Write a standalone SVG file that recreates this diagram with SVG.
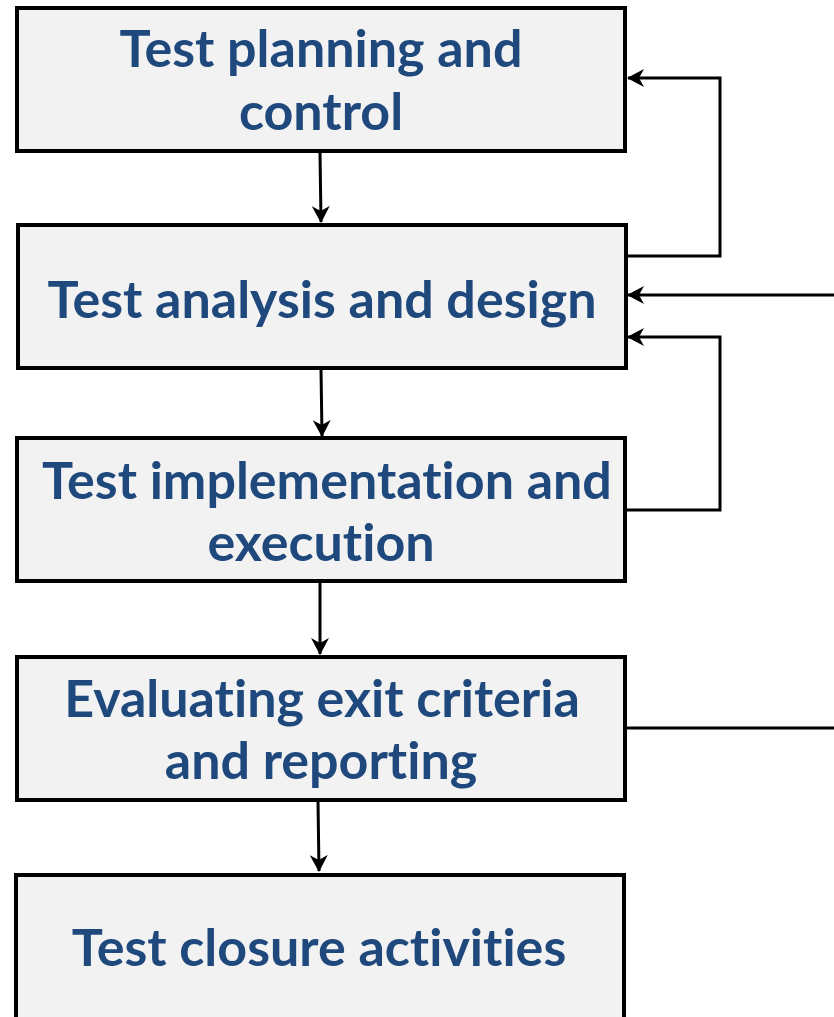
<svg xmlns="http://www.w3.org/2000/svg" width="834" height="1017" viewBox="0 0 834 1017">
<style>
.box{fill:#f2f2f2;stroke:#000;stroke-width:4}
.lbl{font-family:Lato,"Open Sans",sans-serif;font-weight:bold;font-size:52px;fill:#1f497d;text-anchor:middle;font-variant-ligatures:none;font-feature-settings:"liga" 0}
.con{fill:none;stroke:#000;stroke-width:3}
</style>
<defs>
<marker id="ah" markerWidth="18" markerHeight="20" refX="16" refY="10" orient="auto" markerUnits="userSpaceOnUse">
<path d="M0,1 L17,10 L0,19 L5,10 Z" fill="#000"/>
</marker>
</defs>
<rect width="834" height="1017" fill="#fff"/>
<g id="connectors">
<path class="con" d="M320,152 L321,222" marker-end="url(#ah)"/>
<path class="con" d="M321,369 L322,436" marker-end="url(#ah)"/>
<path class="con" d="M320,582 L320,654" marker-end="url(#ah)"/>
<path class="con" d="M318,801 L319,871" marker-end="url(#ah)"/>
<path class="con" d="M627,256 L720,256 L720,78 L628,78" marker-end="url(#ah)"/>
<path class="con" d="M834,295 L628,295" marker-end="url(#ah)"/>
<path class="con" d="M627,510 L720,510 L720,337 L628,337" marker-end="url(#ah)"/>
<path class="con" d="M627,728 L834,728"/>
</g>
<g id="n1">
<rect class="box" x="17" y="8" width="608" height="143"/>
<text class="lbl" x="321" y="67">Test planning and</text>
<text class="lbl" x="321" y="130">control</text>
</g>
<g id="n2">
<rect class="box" x="18" y="225" width="608" height="143"/>
<text class="lbl" x="322" y="318">Test analysis and design</text>
</g>
<g id="n3">
<rect class="box" x="17" y="438" width="608" height="143"/>
<text class="lbl" x="327" y="499">Test implementation and</text>
<text class="lbl" x="321" y="561">execution</text>
</g>
<g id="n4">
<rect class="box" x="17" y="657" width="608" height="143"/>
<text class="lbl" x="322" y="717">Evaluating exit criteria</text>
<text class="lbl" x="321" y="779">and reporting</text>
</g>
<g id="n5">
<rect class="box" x="16" y="875" width="608" height="160"/>
<text class="lbl" x="319" y="966">Test closure activities</text>
</g>
</svg>
